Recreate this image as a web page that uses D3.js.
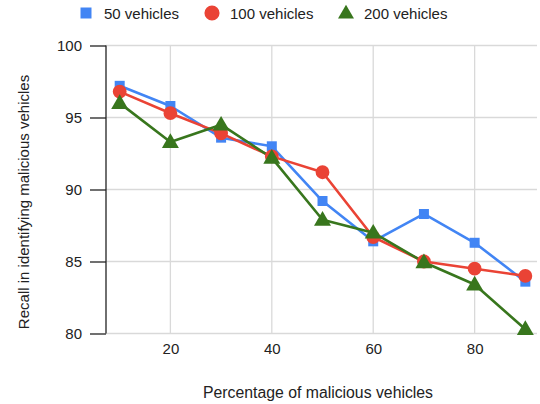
<!DOCTYPE html>
<html><head><meta charset="utf-8">
<script src="https://cdn.jsdelivr.net/npm/d3@7"></script>
<style>body{margin:0;background:#fff}svg{display:block;font-family:"Liberation Sans",Arial,sans-serif}</style>
</head><body><svg id="c" width="540" height="404"></svg>
<script>
const xValues = [10, 20, 30, 40, 50, 60, 70, 80, 90];
const series50 = [97.2, 95.8, 93.6, 93.0, 89.2, 86.4, 88.3, 86.3, 83.6];
const series100 = [96.8, 95.3, 93.9, 92.3, 91.2, 86.7, 85.0, 84.5, 84.0];
const series200 = [96.0, 93.3, 94.5, 92.2, 87.9, 87.0, 84.95, 83.4, 80.3];
const seriesNames = ["50 vehicles", "100 vehicles", "200 vehicles"];
const xTicks = [20, 40, 60, 80];
const yTicks = [80, 85, 90, 95, 100];

const svg = d3.select("#c");
const x = d3.scaleLinear().domain([7.3, 92.3]).range([106, 537]);
const y = d3.scaleLinear().domain([80, 100]).range([333.5, 45.5]);

// gridlines
svg.append("g").selectAll("line").data(xTicks).join("line")
  .attr("x1", d => x(d)).attr("x2", d => x(d)).attr("y1", y(100)).attr("y2", y(80))
  .attr("stroke", "#d9d9d9").attr("stroke-width", 1.3);
svg.append("g").selectAll("line").data(yTicks).join("line")
  .attr("x1", 106).attr("x2", 537).attr("y1", d => y(d)).attr("y2", d => y(d))
  .attr("stroke", "#d9d9d9").attr("stroke-width", 1.3);

// y axis
const yAxis = d3.axisLeft(y).tickValues(yTicks).tickSize(16).tickPadding(8).tickFormat(d3.format("d"));
const ya = svg.append("g").attr("transform", "translate(106,0)").call(yAxis);
ya.select(".domain").remove();
ya.selectAll(".tick line").attr("stroke", "#222").attr("stroke-width", 1.3);
ya.selectAll("text").attr("font-size", 15).attr("fill", "#222").attr("font-family", "Liberation Sans, Arial");
svg.append("line").attr("x1", 106).attr("x2", 106).attr("y1", y(100)).attr("y2", y(80))
  .attr("stroke", "#222").attr("stroke-width", 1.3);

// x axis
const xAxis = d3.axisBottom(x).tickValues(xTicks).tickSize(0).tickPadding(10).tickFormat(d3.format("d"));
const xa = svg.append("g").attr("transform", `translate(0,${y(80)})`).call(xAxis);
xa.select(".domain").remove();
xa.selectAll("text").attr("font-size", 15).attr("fill", "#222").attr("font-family", "Liberation Sans, Arial");

// labels
svg.append("text").attr("x", 318).attr("y", 398).attr("text-anchor", "middle")
  .attr("font-size", 15.8).attr("fill", "#222").text("Percentage of malicious vehicles");
svg.append("text").attr("transform", "translate(29,202) rotate(-90)").attr("text-anchor", "middle")
  .attr("font-size", 15).attr("fill", "#222").text("Recall in identifying malicious vehicles");

const colors = ["#4285f4", "#ea4335", "#38761d"];
const allSeries = [series50, series100, series200];
const line = d3.line().x((d, i) => x(xValues[i])).y(d => y(d));

const sq = d3.symbol().type(d3.symbolSquare).size(100);
const ci = d3.symbol().type(d3.symbolCircle).size(150);
const tr = d3.symbol().type(d3.symbolTriangle).size(125);
const syms = [sq, ci, tr];

allSeries.forEach((s, k) => {
  svg.append("path").datum(s).attr("d", line).attr("fill", "none")
    .attr("stroke", colors[k]).attr("stroke-width", 2.6).attr("stroke-linejoin", "round");
});
allSeries.forEach((s, k) => {
  svg.append("g").selectAll("path").data(s).join("path")
    .attr("d", syms[k]).attr("fill", colors[k])
    .attr("transform", (d, i) => `translate(${x(xValues[i])},${y(d) + (k === 2 ? 1 : 0)})`);
});

// legend
const legX = [86, 212, 346];
const legTX = [104, 230, 364];
const legSyms = [d3.symbol().type(d3.symbolSquare).size(121), d3.symbol().type(d3.symbolCircle).size(180), d3.symbol().type(d3.symbolTriangle).size(110)];
seriesNames.forEach((n, k) => {
  svg.append("path").attr("d", legSyms[k]).attr("fill", colors[k])
    .attr("transform", `translate(${legX[k]},${13 + (k === 2 ? 1 : 0)})`);
  svg.append("text").attr("x", legTX[k]).attr("y", 18.5).attr("font-size", 15).attr("fill", "#222").text(n);
});
</script></body></html>
